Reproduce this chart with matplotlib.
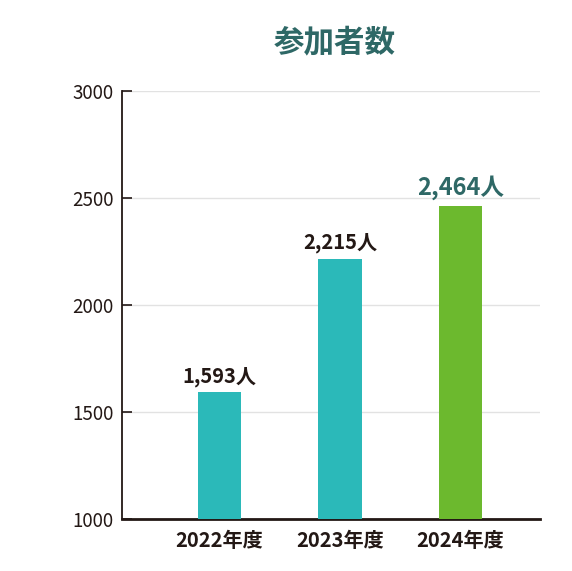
import numpy as np
import matplotlib.pyplot as plt

plt.rcParams['font.family'] = ['Noto Sans CJK JP', 'DejaVu Sans']

# data
years = ["2022年度", "2023年度", "2024年度"]
participants = [1593, 2215, 2464]
bar_colors = ["#2bb9b9", "#2bb9b9", "#6cb92e"]
label_colors = ["#231815", "#231815", "#2e6866"]
label_sizes = [14.5, 14.5, 17]
y_ticks = [1000, 1500, 2000, 2500, 3000]

fig = plt.figure(figsize=(5.72, 5.71), dpi=100)
ax = fig.add_axes([0.2133, 0.0911, 0.7308, 0.7496])

x = np.arange(len(years))
bars = ax.bar(x, participants, width=0.357, color=bar_colors, zorder=3)

# value labels above bars
for xi, v, c, s in zip(x, participants, label_colors, label_sizes):
    ax.annotate(f"{v:,}人", (xi, v), xytext=(0, 4), textcoords="offset points",
                ha="center", va="bottom", fontsize=s, fontweight="bold", color=c)

ax.set_ylim(1000, 3000)
ax.set_xlim(-0.809, 2.66)
ax.set_yticks(y_ticks)
ax.set_xticks(x)
ax.set_xticklabels(years, fontsize=14.5, fontweight="bold", color="#231815")
ax.tick_params(axis="x", length=0, pad=8)
ax.tick_params(axis="y", direction="in", length=7, width=1.2, color="#231815",
               labelsize=13.5, labelcolor="#231815", pad=6)

ax.grid(axis="y", color="#e2e2e2", linewidth=1, zorder=0)
for side in ["top", "right"]:
    ax.spines[side].set_visible(False)
ax.spines["left"].set_color("#231815")
ax.spines["left"].set_linewidth(1.3)
ax.spines["bottom"].set_color("#231815")
ax.spines["bottom"].set_linewidth(2)

fig.text(0.585, 0.925, "参加者数", ha="center", va="center", fontsize=22,
         fontweight="bold", color="#2e6866")

fig.savefig("out.png", dpi=100)
